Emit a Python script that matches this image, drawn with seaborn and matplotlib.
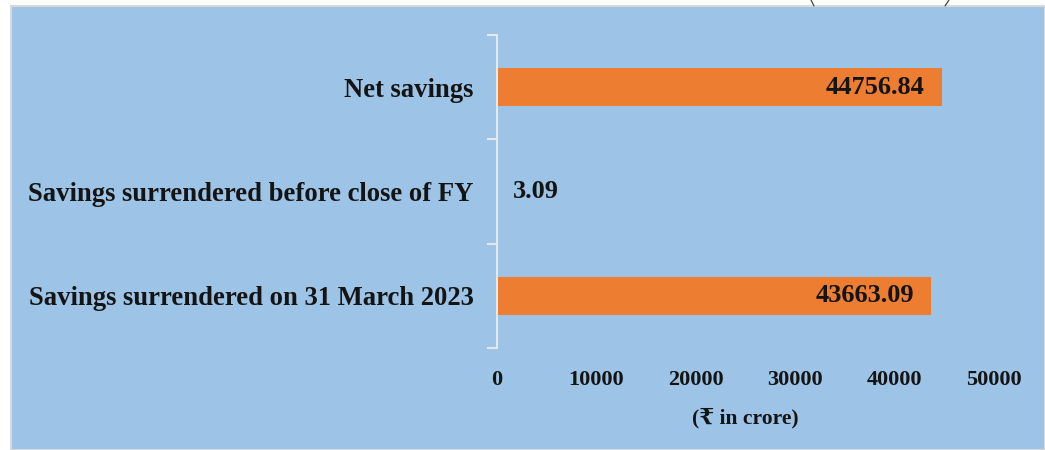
import pandas as pd
import matplotlib.pyplot as plt
import seaborn as sns
from matplotlib.patches import Rectangle
from matplotlib.lines import Line2D

# Savings figures (₹ in crore)
categories = ["Net savings",
              "Savings surrendered before close of FY",
              "Savings surrendered on 31 March 2023"]
amounts = [44756.84, 3.09, 43663.09]
value_labels = ["44756.84", "3.09", "43663.09"]
x_ticks = [0, 10000, 20000, 30000, 40000, 50000]

df = pd.DataFrame({"category": categories, "amount": amounts})

sns.set_style("white")
plt.rcParams['font.family'] = ['Liberation Serif', 'DejaVu Serif', 'DejaVu Sans']
plt.rcParams['font.weight'] = 'bold'

bg = "#9DC3E6"
bar_color = "#ED7D31"
axis_col = "#E4E9EE"
txt = "#141414"

fig = plt.figure(figsize=(10.45, 4.5), dpi=100)
fig.patch.set_facecolor("white")
# blue panel behind the chart
fig.add_artist(Rectangle((11 / 1045, 0), 1 - 11 / 1045, 444 / 450,
                         transform=fig.transFigure, facecolor=bg,
                         edgecolor="#D9D9D9", linewidth=1.5, zorder=0))
# bits of the shape cut off above
fig.add_artist(Line2D([811 / 1045, 814 / 1045], [1.0, 444 / 450],
                      transform=fig.transFigure, color="#333333", lw=0.8))
fig.add_artist(Line2D([949 / 1045, 945 / 1045], [1.0, 444 / 450],
                      transform=fig.transFigure, color="#333333", lw=0.8))

ax = fig.add_axes([497 / 1045, 102 / 450, 497 / 1045, 313 / 450])
ax.set_facecolor("none")

sns.barplot(data=df, x="amount", y="category", order=categories,
            color=bar_color, width=0.36, saturation=1, linewidth=0, ax=ax)

ax.set_xlim(0, 50000)
ax.set_ylim(2.5, -0.5)
ax.set_xticks(x_ticks)
ax.set_xticklabels([str(t) for t in x_ticks])

for s in ["top", "right", "bottom"]:
    ax.spines[s].set_visible(False)
ax.spines["left"].set_color(axis_col)
ax.spines["left"].set_linewidth(1.5)

ax.set_yticks([-0.5, 0.5, 1.5, 2.5], minor=True)
ax.tick_params(axis="y", which="minor", left=True, length=7, width=1.5,
               color=axis_col)
ax.tick_params(axis="y", which="major", left=True, length=0, pad=17,
               labelsize=19.2, labelcolor=txt)
ax.tick_params(axis="x", bottom=True, length=0, pad=16, labelsize=16,
               labelcolor=txt)
for lab in ax.get_xticklabels() + ax.get_yticklabels():
    lab.set_fontweight("bold")

ax.set_ylabel("")
ax.set_xlabel("(₹ in crore)", fontsize=15.5, fontweight="bold", color=txt,
              labelpad=13)

# value labels: inside the end of long bars, just outside tiny ones
for i, (val, lab) in enumerate(zip(amounts, value_labels)):
    if val > 5000:
        ax.annotate(lab, xy=(val, i), xytext=(-17, 0), textcoords="offset pixels",
                    ha="right", va="center", fontsize=19, fontweight="bold",
                    color=txt)
    else:
        ax.annotate(lab, xy=(val, i), xytext=(16, 0), textcoords="offset pixels",
                    ha="left", va="center", fontsize=19, fontweight="bold",
                    color=txt)

fig.savefig("out.png", dpi=100)
